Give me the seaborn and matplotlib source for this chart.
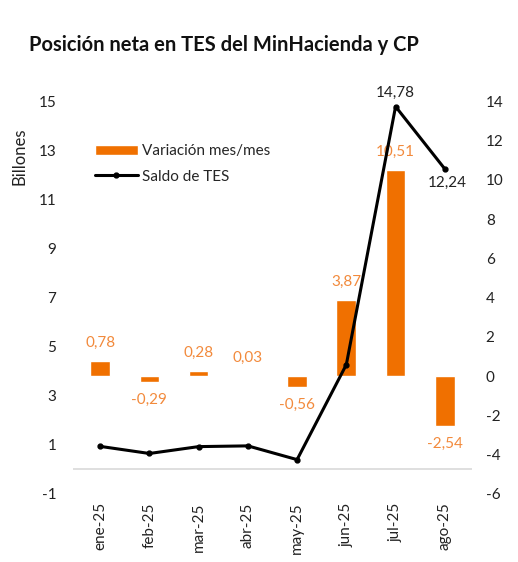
import numpy as np
import pandas as pd
import matplotlib
matplotlib.use("Agg")
import matplotlib.pyplot as plt
import seaborn as sns

# Datos del gráfico
meses = ["ene-25", "feb-25", "mar-25", "abr-25", "may-25", "jun-25", "jul-25", "ago-25"]
variacion = [0.78, -0.29, 0.28, 0.03, -0.56, 3.87, 10.51, -2.54]
saldo = [0.94, 0.65, 0.93, 0.96, 0.40, 4.27, 14.78, 12.24]

naranja = "#F07000"
naranja_txt = "#F28A3C"

sns.set_theme(style="white")
plt.rcParams["font.family"] = ["Lato", "DejaVu Sans"]
plt.rcParams["axes.unicode_minus"] = False

df = pd.DataFrame({"mes": meses, "variacion": variacion, "saldo": saldo})
x = np.arange(len(meses))

fig = plt.figure(figsize=(5.18, 5.62), dpi=100)
ax = fig.add_axes([0.141, 0.121, 0.77, 0.699])  # eje izquierdo (saldo)
ax2 = ax.twinx()  # eje derecho (variación)

# Barras: variación mes/mes en el eje derecho
sns.barplot(data=df, x="mes", y="variacion", ax=ax2, color=naranja,
            width=0.4, saturation=1, label="Variación mes/mes")
if ax2.get_legend() is not None:
    ax2.get_legend().remove()
ax2.set_ylim(-6, 14)
ax2.set_yticks(range(-6, 15, 2))
ax2.set_ylabel("")
ax2.set_xlabel("")

# Línea: saldo de TES en el eje izquierdo
ax.plot(x, saldo, color="black", lw=2.2, marker="o", ms=3.5, label="Saldo de TES")
ax.set_ylim(-1, 15)
ax.set_yticks(range(-1, 16, 2))
ax.axhline(0, color="#D9D9D9", lw=1.2, zorder=0)
ax.set_xlim(-0.55, 7.55)
ax.set_xticks(x)
ax.set_xticklabels(meses, rotation=90)

# La línea debe quedar por encima de las barras
ax.set_zorder(ax2.get_zorder() + 1)
ax.patch.set_visible(False)

for a in (ax, ax2):
    for s in a.spines.values():
        s.set_visible(False)
    a.tick_params(length=0, labelsize=11, colors="#222222")
ax.tick_params(axis="x", pad=6)
ax2.tick_params(axis="y", pad=10)
ax.tick_params(axis="y", pad=12)

ax.set_ylabel("Billones", fontsize=12, color="#222222")
ax.yaxis.set_label_coords(-0.115, 0.86)

# Etiquetas de las barras
for i, v in enumerate(variacion):
    txt = f"{v:.2f}".replace(".", ",")
    if v >= 0:
        ax2.annotate(txt, (i, v), xytext=(0, 8), textcoords="offset points",
                     ha="center", va="bottom", color=naranja_txt, fontsize=11)
    else:
        ax2.annotate(txt, (i, v), xytext=(0, -8), textcoords="offset points",
                     ha="center", va="top", color=naranja_txt, fontsize=11)

# Etiquetas de la línea (solo jul y ago)
ax.annotate(f"{saldo[6]:.2f}".replace(".", ","), (6, saldo[6]), xytext=(0, 5),
            textcoords="offset points", ha="center", va="bottom", fontsize=11, color="#222222")
ax.annotate(f"{saldo[7]:.2f}".replace(".", ","), (7, saldo[7]), xytext=(2, -5),
            textcoords="offset points", ha="center", va="top", fontsize=11, color="#222222")

# Leyenda
h1, l1 = ax2.get_legend_handles_labels()
h2, l2 = ax.get_legend_handles_labels()
ax.legend(h1 + h2, l1 + l2, loc="upper left", bbox_to_anchor=(0.02, 0.925),
          frameon=False, fontsize=11, handlelength=2.8, handletextpad=0.3,
          labelspacing=0.75)

fig.text(0.056, 0.92, "Posición neta en TES del MinHacienda y CP",
         fontsize=14.5, fontweight="bold", ha="left", va="center", color="#111111")

fig.savefig("out.png", dpi=100, facecolor="white")
